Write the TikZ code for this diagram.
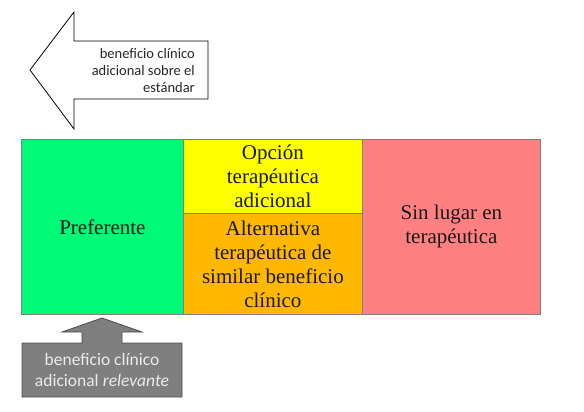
\documentclass[tikz,border=0pt]{standalone}
\usepackage{fontspec}
\setmainfont{LiberationSerif}[Extension=.ttf, UprightFont=*-Regular, ItalicFont=*-Italic, BoldFont=*-Bold]
\newfontfamily\timesfont{LiberationSerif}[Extension=.ttf, UprightFont=*-Regular]
\newfontfamily\calibri{Carlito}
\usepackage{tikz}
\usepackage{xcolor}
\definecolor{prefgreen}{RGB}{0,250,120}
\definecolor{opcyellow}{RGB}{255,255,0}
\definecolor{altorange}{RGB}{255,184,0}
\definecolor{sinred}{RGB}{255,128,128}
\definecolor{arrowgray}{RGB}{127,127,127}
\tikzset{
    band-box/.style = {draw=gray, line width=0.8pt, rectangle, anchor=north west, inner sep=2pt,
        align=center, text=black!90, font=\timesfont\fontsize{21}{24}\selectfont},
    white-arrow/.style = {draw=black, fill=white, line width=0.8pt},
    gray-arrow/.style = {draw=black!70, fill=arrowgray, line width=0.8pt},
    arrow-text/.style = {inner sep=0pt, font=\calibri\fontsize{14.5}{17}\selectfont},
}

\begin{document}
\begin{tikzpicture}[x=1pt, y=-1pt]
\useasboundingbox (0,0) rectangle (584,412);
% the band of four boxes
\node [band-box, fill=prefgreen, minimum width=162pt, minimum height=175pt] (pref) at (21,139) {Preferente};
\node [band-box, fill=opcyellow, minimum width=179pt, minimum height=74pt] (opcion) at (183,139) {Opción\\terapéutica\\adicional};
\node [band-box, fill=altorange, minimum width=179pt, minimum height=101pt] (altern) at (183,213) {Alternativa\\terapéutica de\\similar beneficio\\clínico};
\node [band-box, fill=sinred, minimum width=178pt, minimum height=175pt] (sinlugar) at (362,139) {Sin lugar en\\terapéutica};

% arrow pointing left
\draw [white-arrow] (30,70) -- (74,12) -- (74,41) -- (208,41) -- (208,99) -- (74,99) -- (74,129) -- cycle;
\node [arrow-text, align=right, anchor=east, text=black!85] (estandar) at (195,71) {beneficio clínico\\adicional sobre el\\estándar};

% arrow pointing up
\draw [gray-arrow] (102,318) -- (142,332) -- (122,332) -- (122,343) -- (182,343) -- (182,397)
    -- (22,397) -- (22,343) -- (82,343) -- (82,332) -- (62,332) -- cycle;
\node [arrow-text, align=center, text=black!8, font=\calibri\fontsize{17.5}{21}\selectfont] (relevante) at (102,370)
    {beneficio clínico\\adicional \textit{relevante}};
\end{tikzpicture}
\end{document}
